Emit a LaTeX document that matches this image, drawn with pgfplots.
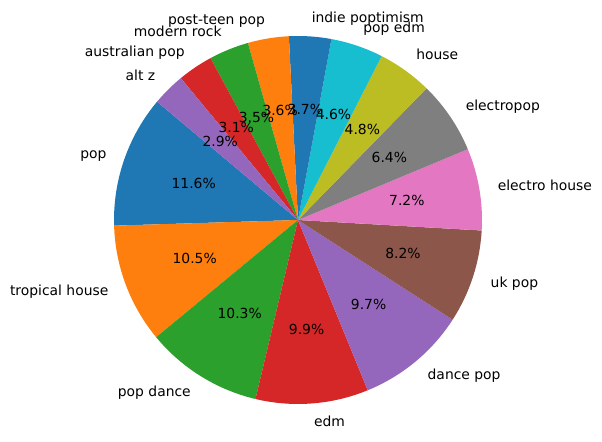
\documentclass[border=0pt]{standalone}
\usepackage{pgfplots}
\pgfplotsset{compat=1.18}
\usepackage{pgfplotstable}
\usepackage{fontspec}
\setmainfont{DejaVu Sans}
\definecolor{C0}{HTML}{1F77B4}
\definecolor{C1}{HTML}{FF7F0E}
\definecolor{C2}{HTML}{2CA02C}
\definecolor{C3}{HTML}{D62728}
\definecolor{C4}{HTML}{9467BD}
\definecolor{C5}{HTML}{8C564B}
\definecolor{C6}{HTML}{E377C2}
\definecolor{C7}{HTML}{7F7F7F}
\definecolor{C8}{HTML}{BCBD22}
\definecolor{C9}{HTML}{17BECF}
\pgfplotstableread[col sep=comma]{
label,value,color
pop,11.6,C0
tropical house,10.5,C1
pop dance,10.3,C2
edm,9.9,C3
dance pop,9.7,C4
uk pop,8.2,C5
electro house,7.2,C6
electropop,6.4,C7
house,4.8,C8
pop edm,4.6,C9
indie poptimism,3.7,C0
post-teen pop,3.6,C1
modern rock,3.5,C2
australian pop,3.1,C3
alt z,2.9,C4
}\piedata
\begin{document}
\begin{tikzpicture}
\begin{axis}[hide axis, scale only axis, x=132.48pt, y=132.48pt,
  xmin=-1.6196, xmax=1.6522, ymin=-1.2065, ymax=1.1957, clip=false,
  font=\fontsize{10}{12}\selectfont]
\path (rel axis cs:0,0) rectangle (rel axis cs:1,1);
\pgfplotstablegetrowsof{\piedata}
\pgfmathtruncatemacro{\N}{\pgfplotsretval-1}
% wedges
\def\cum{0}
\pgfplotsforeachungrouped \i in {0,...,\N}{%
  \pgfplotstablegetelem{\i}{value}\of\piedata \let\v\pgfplotsretval
  \pgfplotstablegetelem{\i}{color}\of\piedata \let\c\pgfplotsretval
  \pgfmathsetmacro{\a}{140+3.6*\cum}
  \pgfmathsetmacro{\b}{140+3.6*(\cum+\v)}
  \pgfmathsetmacro{\sx}{cos(\a)}
  \pgfmathsetmacro{\sy}{sin(\a)}
  \edef\temp{\noexpand\fill[\c] (axis cs:0,0) -- (axis cs:\sx,\sy) arc[start angle=\a, end angle=\b, radius=132.48pt] -- cycle;}%
  \temp
  \pgfmathsetmacro{\cum}{\cum+\v}%
}
% texts
\def\cum{0}
\pgfplotsforeachungrouped \i in {0,...,\N}{%
  \pgfplotstablegetelem{\i}{value}\of\piedata \let\v\pgfplotsretval
  \pgfplotstablegetelem{\i}{label}\of\piedata \let\lab\pgfplotsretval
  \pgfmathsetmacro{\m}{140+3.6*(\cum+\v/2)}
  \pgfmathsetmacro{\lx}{1.1*cos(\m)}
  \pgfmathsetmacro{\ly}{1.1*sin(\m)}
  \pgfmathsetmacro{\px}{0.6*cos(\m)}
  \pgfmathsetmacro{\py}{0.6*sin(\m)}
  \ifdim\lx pt>0pt \def\anc{west}\else\def\anc{east}\fi
  \edef\temp{\noexpand\node[anchor=\anc, inner sep=0pt, text height=1.6ex, text depth=0.45ex] at (axis cs:\lx,\ly) {\lab};
    \noexpand\node[inner sep=0pt, text height=1.6ex, text depth=0.45ex] at (axis cs:\px,\py) {\v\noexpand\%};}%
  \temp
  \pgfmathsetmacro{\cum}{\cum+\v}%
}
\end{axis}
\end{tikzpicture}
\end{document}
